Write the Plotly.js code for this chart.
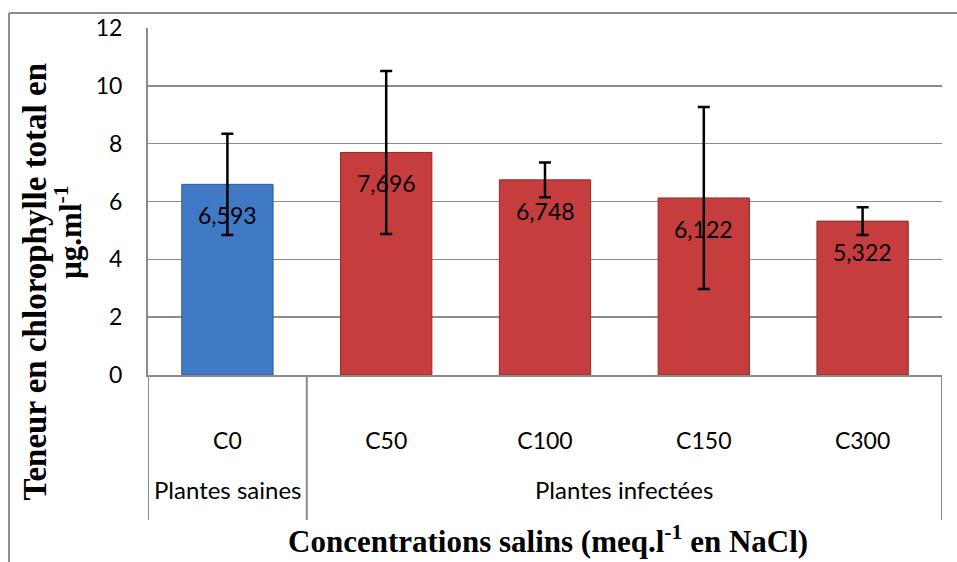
<!DOCTYPE html>
<html>
<head>
<meta charset="utf-8">
<script src="https://cdn.plot.ly/plotly-3.0.1.min.js"></script>
<style>html,body{margin:0;padding:0;background:#fff;}#chart{width:957px;height:562px;}</style>
</head>
<body>
<div id="chart"></div>
<script>
// Data
var categories = ['C0', 'C50', 'C100', 'C150', 'C300'];
var values = [6.593, 7.696, 6.748, 6.122, 5.322];
var errors = [1.75, 2.82, 0.60, 3.15, 0.48];
var groupOf = ['Plantes saines', 'Plantes infectées', 'Plantes infectées', 'Plantes infectées', 'Plantes infectées'];
var groups = ['Plantes saines', 'Plantes infectées'];
var yTicks = [0, 2, 4, 6, 8, 10, 12];

var barColors = groupOf.map(function (g) { return g === groups[0] ? '#4079c6' : '#c53d3d'; });
var lineColors = groupOf.map(function (g) { return g === groups[0] ? '#2d5b9a' : '#8e2b2b'; });

var trace = {
  type: 'bar',
  x: categories,
  y: values,
  width: 0.575,
  marker: { color: barColors, line: { color: lineColors, width: 1 } },
  error_y: { type: 'data', array: errors, visible: true, color: '#000', thickness: 2.5, width: 6 },
  hoverinfo: 'x+y'
};

var annotations = [];
values.forEach(function (v, i) {
  annotations.push({
    x: categories[i], y: v, xref: 'x', yref: 'y', yshift: -31,
    text: v.toFixed(3).replace('.', ','), showarrow: false,
    font: { family: 'Lato', size: 23, color: '#000' }
  });
});
groups.forEach(function (g) {
  var idx = [];
  groupOf.forEach(function (gg, i) { if (gg === g) idx.push(i); });
  var mid = (idx[0] + idx[idx.length - 1]) / 2;
  annotations.push({
    x: mid, y: -0.331, xref: 'x', yref: 'paper', xanchor: 'center', yanchor: 'middle',
    text: g, showarrow: false, font: { family: 'Lato', size: 24, color: '#000' }
  });
});
annotations.push({
  x: -0.142, y: 0.27, xref: 'paper', yref: 'paper', xanchor: 'center', yanchor: 'middle', textangle: -90,
  text: 'Teneur en chlorophylle total en', showarrow: false,
  font: { family: 'Liberation Serif', size: 33, color: '#000', weight: 'bold' }
});
annotations.push({
  x: -0.1008, y: 0.412, xref: 'paper', yref: 'paper', xanchor: 'center', yanchor: 'middle', textangle: -90,
  text: 'µg.ml<sup>-1</sup>', showarrow: false,
  font: { family: 'Liberation Serif', size: 31, color: '#000', weight: 'bold' }
});
annotations.push({
  x: 0.504, y: -0.475, xref: 'paper', yref: 'paper', xanchor: 'center', yanchor: 'middle',
  text: 'Concentrations salins (meq.l<sup>-1</sup> en NaCl)', showarrow: false,
  font: { family: 'Liberation Serif', size: 31, color: '#000', weight: 'bold' }
});

// table dividers below the x axis (group boundaries)
var shapes = [];
var bounds = [-0.5];
for (var i = 1; i < groupOf.length; i++) { if (groupOf[i] !== groupOf[i - 1]) bounds.push(i - 0.5); }
bounds.push(categories.length - 0.5);
bounds.forEach(function (b) {
  shapes.push({ type: 'line', xref: 'x', yref: 'paper', x0: b, x1: b, y0: 0, y1: -0.418,
    line: { color: '#8c8c8c', width: 2 } });
});
// outer chart border (top & left)
shapes.push({ type: 'line', xref: 'paper', yref: 'paper', x0: -0.175, x1: 1.02, y0: 1.0432, y1: 1.0432,
  line: { color: '#8c8c8c', width: 2 } });
shapes.push({ type: 'line', xref: 'paper', yref: 'paper', x0: -0.175, x1: -0.175, y0: 1.0432, y1: -0.56,
  line: { color: '#8c8c8c', width: 2 } });

var layout = {
  width: 957, height: 562,
  margin: { l: 148, r: 15, t: 28, b: 187 },
  paper_bgcolor: '#fff', plot_bgcolor: '#fff',
  showlegend: false,
  xaxis: {
    type: 'category', range: [-0.5, 4.5], showgrid: false, zeroline: false,
    showline: true, linecolor: '#8c8c8c', linewidth: 2, ticks: '',
    ticklabelstandoff: 44,
    tickfont: { family: 'Lato', size: 23, color: '#000' }
  },
  yaxis: {
    range: [0, 12], tickvals: yTicks, showgrid: true, gridcolor: '#8c8c8c', gridwidth: 1.5,
    zeroline: false, showline: true, linecolor: '#8c8c8c', linewidth: 2, ticks: '',
    ticklabelstandoff: 19,
    tickfont: { family: 'Lato', size: 23, color: '#000' }
  },
  annotations: annotations,
  shapes: shapes
};

Plotly.newPlot('chart', [trace], layout, { displayModeBar: false, staticPlot: true });
</script>
</body>
</html>
